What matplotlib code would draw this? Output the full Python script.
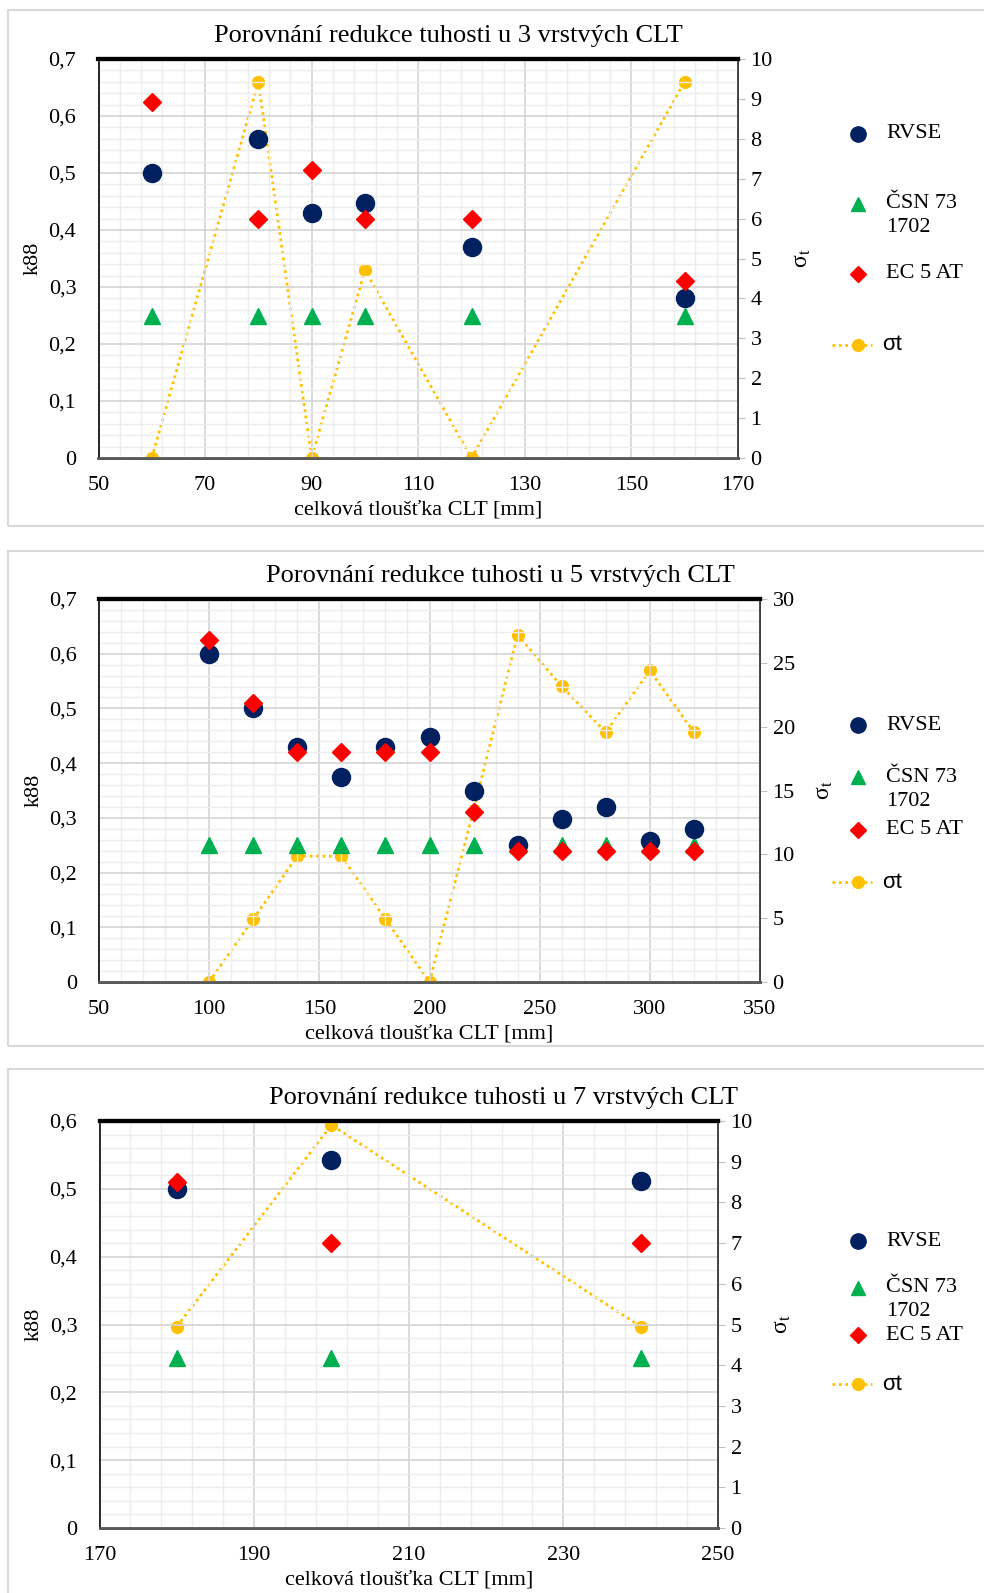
import matplotlib
matplotlib.use("Agg")
import matplotlib.pyplot as plt
from matplotlib.patches import Rectangle
from matplotlib.ticker import MultipleLocator, FuncFormatter
from matplotlib.lines import Line2D

plt.rcParams['font.family'] = ['Liberation Serif', 'DejaVu Serif']
plt.rcParams['mathtext.fontset'] = 'stix'

# 3-layer CLT
x3 = [60, 80, 90, 100, 120, 160]
rvse3 = [0.50, 0.56, 0.43, 0.447, 0.37, 0.28]
csn3 = [0.25, 0.25, 0.25, 0.25, 0.25, 0.25]
ec3 = [0.625, 0.42, 0.505, 0.42, 0.42, 0.31]
sig3 = [0, 9.43, 0, 4.71, 0, 9.43]

# 5-layer CLT
x5 = [100, 120, 140, 160, 180, 200, 220, 240, 260, 280, 300, 320]
rvse5 = [0.60, 0.50, 0.43, 0.375, 0.43, 0.447, 0.35, 0.25, 0.297, 0.32, 0.257, 0.28]
csn5 = [0.25] * 12
ec5 = [0.625, 0.51, 0.42, 0.42, 0.42, 0.42, 0.31, 0.24, 0.24, 0.24, 0.24, 0.24]
sig5 = [0, 4.93, 9.86, 9.86, 4.93, 0, 13.5, 27.2, 23.15, 19.57, 24.4, 19.57]

# 7-layer CLT
x7 = [180, 200, 240]
rvse7 = [0.50, 0.543, 0.512]
csn7 = [0.25, 0.25, 0.25]
ec7 = [0.51, 0.42, 0.42]
sig7 = [4.95, 9.9, 4.95]

titles = ["Porovnání redukce tuhosti u 3 vrstvých CLT",
          "Porovnání redukce tuhosti u 5 vrstvých CLT",
          "Porovnání redukce tuhosti u 7 vrstvých CLT"]
labels = ["RVSE", "ČSN 73", "1702", "EC 5 AT", "σt"]
xlabel = "celková tloušťka CLT [mm]"

C_RVSE = "#002060"
C_CSN = "#00B050"
C_EC = "#FF0000"
C_SIG = "#FFC000"

W, H = 984, 1593
fig = plt.figure(figsize=(W / 100, H / 100), dpi=100)


def fx(px):
    return px / W


def fy(py):
    return 1 - py / H


def comma(v, pos):
    if abs(v) < 1e-9:
        return "0"
    return f"{v:.1f}".replace(".", ",")


def panel(box, ax_px, x, rvse, csn, ec, sig, xlim, xmaj, xmin, ylim, ymaj,
          y2lim, y2maj, title, title_x, leg_y):
    # outer frame
    bx0, by0, bx1, by1 = box
    fig.patches.append(Rectangle((fx(bx0), fy(by1)), fx(bx1 - bx0), (by1 - by0) / H,
                                 transform=fig.transFigure, fill=False,
                                 edgecolor="#d9d9d9", linewidth=1.5))
    l, t, r, b = ax_px
    ax = fig.add_axes([fx(l), fy(b), fx(r - l), (b - t) / H])
    ax2 = ax.twinx()
    ax.set_zorder(ax2.get_zorder() + 1)
    ax.patch.set_visible(False)

    ax.set_xlim(*xlim)
    ax.set_ylim(*ylim)
    ax.xaxis.set_major_locator(MultipleLocator(xmaj, offset=xlim[0]))
    ax.xaxis.set_minor_locator(MultipleLocator(xmin, offset=xlim[0]))
    ax.yaxis.set_major_locator(MultipleLocator(ymaj))
    ax.yaxis.set_minor_locator(MultipleLocator(ymaj / 5))
    ax.yaxis.set_major_formatter(FuncFormatter(comma))
    ax.grid(which="major", color="#d4d4d4", linewidth=1.2)
    ax.grid(which="minor", color="#ededed", linewidth=1.0)
    ax.set_axisbelow(True)
    ax.tick_params(which="both", length=0, labelsize=16, pad=16)
    ax.tick_params(axis="x", pad=13)

    ax2.set_ylim(*y2lim)
    ax2.yaxis.set_major_locator(MultipleLocator(y2maj))
    ax2.tick_params(axis="y", length=5, color="#bfbfbf", labelsize=16, pad=4)

    for a in (ax, ax2):
        a.spines["top"].set_linewidth(3)
        a.spines["top"].set_color("black")
        a.spines["left"].set_color("#262626")
        a.spines["left"].set_linewidth(1.3)
        a.spines["right"].set_color("#404040")
        a.spines["right"].set_linewidth(1.3)
        a.spines["bottom"].set_color("#595959")
        a.spines["bottom"].set_linewidth(2)

    ax2.plot(x, sig, linestyle=(0, (1, 1.3)), color=C_SIG, linewidth=2,
             marker="o", markersize=8.5, zorder=3)
    ax.plot(x, csn, linestyle="none", marker="^", color=C_CSN, markersize=12, zorder=4)
    ax.plot(x, rvse, linestyle="none", marker="o", color=C_RVSE, markersize=13, zorder=5)
    ax.plot(x, ec, linestyle="none", marker="D", color=C_EC, markersize=9.5, zorder=6)

    ax.set_ylabel("k88", fontsize=16, labelpad=4)
    ax.set_xlabel(xlabel, fontsize=16, labelpad=4)
    ax2.set_ylabel(r"σ$_{\rm t}$", fontsize=17, labelpad=14)

    fig.text(fx(title_x), fy(t - 23), title, fontsize=19, ha="center", va="center")

    # legend entries
    lx = 858
    tx = 886
    y_rv, y_csn, y_csn2, y_ec, y_sig = leg_y
    fig.add_artist(Line2D([fx(lx)], [fy(y_rv)], marker="o", color=C_RVSE,
                          markersize=11, linestyle="none"))
    fig.add_artist(Line2D([fx(lx)], [fy(y_csn)], marker="^", color=C_CSN,
                          markersize=10, linestyle="none"))
    fig.add_artist(Line2D([fx(lx)], [fy(y_ec)], marker="D", color=C_EC,
                          markersize=8, linestyle="none"))
    fig.add_artist(Line2D([fx(lx - 26), fx(lx + 14)], [fy(y_sig), fy(y_sig)],
                          linestyle=(0, (1, 1.3)), color=C_SIG, linewidth=2))
    fig.add_artist(Line2D([fx(lx)], [fy(y_sig)], marker="o", color=C_SIG,
                          markersize=8.5, linestyle="none"))
    fig.text(fx(tx), fy(y_rv), labels[0], fontsize=16, va="center")
    fig.text(fx(tx), fy(y_csn), labels[1], fontsize=16, va="center")
    fig.text(fx(tx), fy(y_csn2), labels[2], fontsize=16, va="center")
    fig.text(fx(tx), fy(y_ec), labels[3], fontsize=16, va="center")
    fig.text(fx(tx - 4), fy(y_sig), labels[4], fontsize=16, va="center",
             family=["Liberation Sans", "DejaVu Sans"])
    return ax


panel((8, 10, 992, 526), (98.5, 59, 738, 458), x3, rvse3, csn3, ec3, sig3,
      (50, 170), 20, 4, (0, 0.7), 0.1, (0, 10), 1, titles[0], 448,
      [134, 204, 228, 274, 345])
panel((8, 551, 992, 1046), (99, 599, 760, 982), x5, rvse5, csn5, ec5, sig5,
      (50, 350), 50, 10, (0, 0.7), 0.1, (0, 30), 5, titles[1], 500,
      [725, 777, 801, 830, 882])
panel((8, 1069, 992, 1600), (99.5, 1121, 718, 1528), x7, rvse7, csn7, ec7, sig7,
      (170, 250), 20, 4, (0, 0.6), 0.1, (0, 10), 1, titles[2], 503,
      [1241, 1288, 1312, 1335, 1384])

fig.savefig("out.png", dpi=100)
